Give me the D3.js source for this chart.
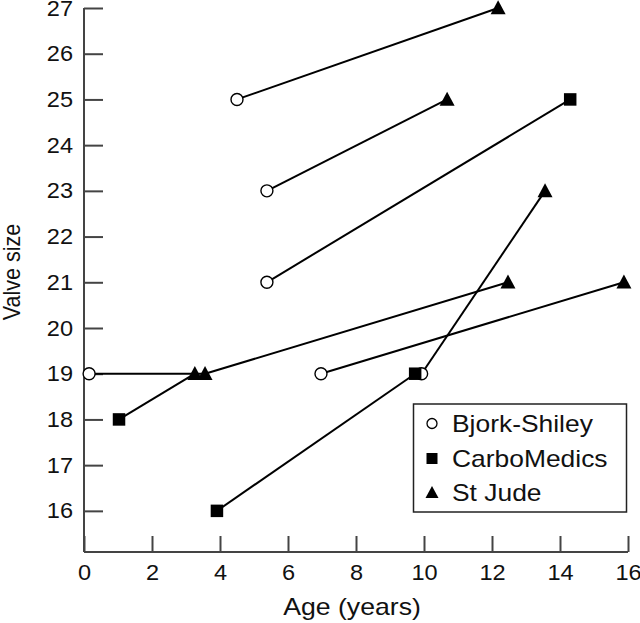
<!DOCTYPE html>
<html>
<head>
<meta charset="utf-8">
<script src="https://cdn.jsdelivr.net/npm/d3@7"></script>
<style>
  html, body { margin: 0; padding: 0; background: #fff; }
  svg { display: block; font-family: "Liberation Sans", Arial, Helvetica, sans-serif; }
</style>
</head>
<body>
<svg id="chart" width="640" height="623"></svg>
<script>
// ---- data ----
const xTicks = [0, 2, 4, 6, 8, 10, 12, 14, 16];
const yTicks = [16, 17, 18, 19, 20, 21, 22, 23, 24, 25, 26, 27];
const seriesNames = ["Bjork-Shiley", "CarboMedics", "St Jude"];

// points per valve type: [age, size]
const bjorkShiley = [[0.15, 19], [4.5, 25], [5.38, 23], [5.38, 21], [6.97, 19], [9.93, 19]];
const carboMedics = [[1.03, 18], [3.91, 16], [9.74, 19], [14.3, 25]];
const stJude = [[3.26, 19], [3.56, 19], [12.18, 27], [10.68, 25], [13.56, 23], [12.47, 21], [15.88, 21]];

// connecting segments: [age1, size1, age2, size2]
const segments = [
  [0.15, 19, 3.56, 19],
  [1.03, 18, 3.26, 19],
  [3.56, 19, 12.47, 21],
  [3.91, 16, 9.74, 19],
  [9.93, 19, 13.56, 23],
  [6.97, 19, 15.88, 21],
  [5.38, 21, 14.3, 25],
  [5.38, 23, 10.68, 25],
  [4.5, 25, 12.18, 27]
];

// ---- drawing ----
const svg = d3.select("#chart");
const x = d3.scaleLinear().domain([0, 16]).range([84, 628]);
const y = d3.scaleLinear().domain([15.1, 27]).range([552, 8]);
const axisColor = "#444";

// horizontally widen text (reference glyphs are slightly wide)
function widen(sel, f) {
  sel.each(function () {
    const L = this.getComputedTextLength();
    d3.select(this).attr("textLength", L * f).attr("lengthAdjust", "spacingAndGlyphs");
  });
}

// axes
const gx = svg.append("g").attr("transform", "translate(0,552)")
  .call(d3.axisBottom(x).tickValues(xTicks).tickFormat(d3.format("d"))
    .tickSize(-16).tickSizeOuter(0).tickPadding(12));
const gy = svg.append("g").attr("transform", "translate(84,0)")
  .call(d3.axisLeft(y).tickValues(yTicks).tickFormat(d3.format("d"))
    .tickSize(-19).tickSizeOuter(0).tickPadding(11));
[gx, gy].forEach(g => {
  g.select(".domain").attr("stroke", axisColor).attr("stroke-width", 2);
  g.selectAll(".tick line").attr("stroke", axisColor).attr("stroke-width", 2);
  const t = g.selectAll(".tick text").attr("fill", "#111").attr("font-size", 22)
    .attr("font-family", "'Liberation Sans', Arial, sans-serif");
  widen(t, 1.07);
});
gy.select(".domain").attr("d", `M0,${y(27)}V552`);
gx.select(".domain").attr("d", `M84,0H628`);

// axis titles
const xt = svg.append("text").attr("x", 352).attr("y", 615).attr("text-anchor", "middle")
  .attr("font-size", 24).attr("fill", "#111").text("Age (years)");
widen(xt, 1.11);
svg.append("g").attr("transform", "translate(20,272) rotate(-90) scale(1,1.1)")
  .append("text").attr("text-anchor", "middle").attr("font-size", 21.5).attr("fill", "#111").text("Valve size");

// segments
svg.append("g").selectAll("line").data(segments).join("line")
  .attr("x1", d => x(d[0])).attr("y1", d => y(d[1]))
  .attr("x2", d => x(d[2])).attr("y2", d => y(d[3]))
  .attr("stroke", "#000").attr("stroke-width", 2);

// markers
const triPath = (w, h) => `M0,${-h * 0.55}L${w / 2},${h * 0.45}L${-w / 2},${h * 0.45}Z`;
const sqPath = s => `M${-s / 2},${-s / 2}h${s}v${s}h${-s}Z`;

svg.append("g").selectAll("circle").data(bjorkShiley).join("circle")
  .attr("cx", d => x(d[0])).attr("cy", d => y(d[1])).attr("r", 6)
  .attr("fill", "#fff").attr("stroke", "#000").attr("stroke-width", 1.4);
svg.append("g").selectAll("path").data(carboMedics).join("path")
  .attr("transform", d => `translate(${x(d[0])},${y(d[1])})`)
  .attr("d", sqPath(12.5)).attr("fill", "#000");
svg.append("g").selectAll("path").data(stJude).join("path")
  .attr("transform", d => `translate(${x(d[0])},${y(d[1])})`)
  .attr("d", triPath(15, 14)).attr("fill", "#000");

// legend
const lg = svg.append("g");
lg.append("rect").attr("x", 413.5).attr("y", 404).attr("width", 213).attr("height", 108)
  .attr("fill", "#fff").attr("stroke", "#222").attr("stroke-width", 1.5);
const rowY = [423.5, 458.5, 492.5];
seriesNames.forEach((name, i) => {
  const cy = rowY[i];
  if (i === 0) {
    lg.append("circle").attr("cx", 432).attr("cy", cy).attr("r", 5)
      .attr("fill", "#fff").attr("stroke", "#000").attr("stroke-width", 1.3);
  } else if (i === 1) {
    lg.append("path").attr("transform", `translate(432,${cy})`).attr("d", sqPath(11)).attr("fill", "#000");
  } else {
    lg.append("path").attr("transform", `translate(432,${cy})`).attr("d", triPath(13, 12)).attr("fill", "#000");
  }
  const t = lg.append("text").attr("x", 452).attr("y", cy + 8.6)
    .attr("font-size", 24).attr("fill", "#111").text(name);
  widen(t, 1.1);
});
</script>
</body>
</html>
